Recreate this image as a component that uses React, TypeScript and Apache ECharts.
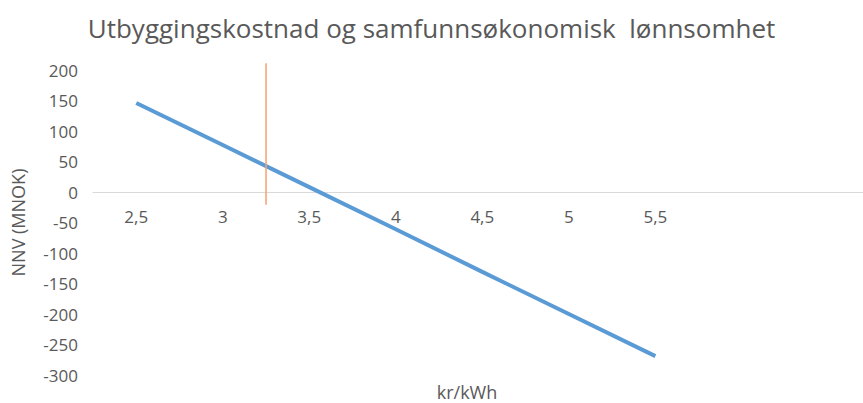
import React, { useEffect, useRef } from "react";
import * as echarts from "echarts";

const title = "Utbyggingskostnad og samfunnsøkonomisk  lønnsomhet";
const xName = "kr/kWh";
const yName = "NNV (MNOK)";
const kwhPrices = [2.5, 3, 3.5, 4, 4.5, 5, 5.5];
const nnvValues = [146, 77, 8, -61, -131, -200, -269];
const referencePrice = 3.25;
const referenceSpan = [-21, 211];
const xLabelValues = [2.5, 3, 3.5, 4, 4.5, 5, 5.5];
const xMin = 2.25;
const xMax = 6.7;
const yMin = -300;
const yMax = 200;
const yStep = 50;

const FONT = "'Open Sans', 'Liberation Sans', sans-serif";
const GRID_LEFT = 93;
const GRID_TOP = 70;
const GRID_BOTTOM = 28;
const H = 403;

export default function App() {
  const ref = useRef<HTMLDivElement>(null);
  useEffect(() => {
    if (!ref.current) return;
    const chart = echarts.init(ref.current, undefined, { renderer: "svg" });
    const plotH = H - GRID_TOP - GRID_BOTTOM;
    const zeroOffset = (plotH * (yMax - 0)) / (yMax - yMin);
    chart.setOption({
      animation: false,
      backgroundColor: "#ffffff",
      title: {
        text: title,
        left: "center",
        top: 10,
        textStyle: { fontFamily: FONT, fontSize: 26, fontWeight: "normal", color: "#595959" },
      },
      grid: [
        { left: GRID_LEFT, right: 0, top: GRID_TOP, bottom: GRID_BOTTOM, outerBoundsMode: "none", containLabel: false },
        { left: GRID_LEFT, right: 0, top: GRID_TOP, height: zeroOffset, outerBoundsMode: "none", containLabel: false },
      ],
      xAxis: [
        {
          type: "value",
          gridIndex: 0,
          min: xMin,
          max: xMax,
          axisLine: { show: false },
          axisTick: { show: false },
          splitLine: { show: false },
          axisLabel: { show: false },
        },
        {
          type: "value",
          gridIndex: 1,
          min: xMin,
          max: xMax,
          position: "bottom",
          axisLine: { show: true, onZero: false, lineStyle: { color: "#d9d9d9", width: 1 } },
          axisTick: { show: false },
          splitLine: { show: false },
          axisLabel: {
            customValues: xLabelValues,
            margin: 16,
            fontFamily: FONT,
            fontSize: 17,
            color: "#595959",
            formatter: (v: number) => String(v).replace(".", ","),
          },
        },
      ],
      yAxis: [
        {
          type: "value",
          gridIndex: 0,
          min: yMin,
          max: yMax,
          interval: yStep,
          name: yName,
          nameLocation: "middle",
          nameGap: 66,
          nameTextStyle: { fontFamily: FONT, fontSize: 18, color: "#595959" },
          axisLine: { show: false },
          axisTick: { show: false },
          splitLine: { show: false },
          axisLabel: { margin: 15, fontFamily: FONT, fontSize: 17, color: "#595959" },
        },
        {
          type: "value",
          gridIndex: 1,
          min: 0,
          max: 1,
          show: false,
        },
      ],
      graphic: [
        {
          type: "text",
          x: 467,
          y: 392,
          style: {
            text: xName,
            font: `18px ${FONT}`,
            fill: "#595959",
            align: "center",
            verticalAlign: "middle",
          },
        },
      ],
      series: [
        {
          type: "line",
          xAxisIndex: 0,
          yAxisIndex: 0,
          data: kwhPrices.map((x, i) => [x, nnvValues[i]]),
          symbol: "none",
          lineStyle: { color: "#5B9BD5", width: 4 },
          z: 3,
        },
        {
          type: "line",
          xAxisIndex: 0,
          yAxisIndex: 0,
          data: referenceSpan.map((y) => [referencePrice, y]),
          symbol: "none",
          clip: false,
          lineStyle: { color: "#F2A26E", width: 1.5 },
          z: 4,
        },
      ],
    });
    return () => chart.dispose();
  }, []);
  return (
    <div
      ref={ref}
      style={{ position: "fixed", left: 0, top: 0, width: 863, height: 403 }}
    />
  );
}
